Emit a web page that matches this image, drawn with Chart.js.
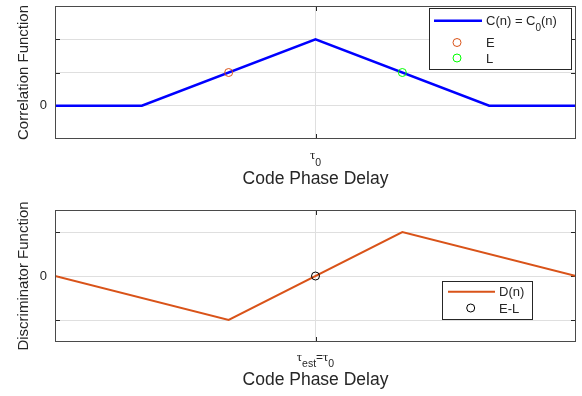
<!DOCTYPE html>
<html>
<head>
<meta charset="utf-8">
<script src="https://cdn.jsdelivr.net/npm/chart.js@4.4.1/dist/chart.umd.min.js"></script>
<style>
  html, body { margin: 0; padding: 0; background: #fff; }
  #wrap { position: relative; width: 582px; height: 396px; }
  canvas { position: absolute; left: 0; }
</style>
</head>
<body>
<div id="wrap">
  <canvas id="corr" width="582" height="198" style="top:0"></canvas>
  <canvas id="disc" width="582" height="198" style="top:198px"></canvas>
</div>
<script>
// Correlation triangle: code phase delay (chips) against correlation value
const corrDelay = [-3, -2, 0, 2, 3];
const corrValue = [0, 0, 2, 0, 0];
// Early and late correlator samples
const earlyPoint = [-1, 1];
const latePoint = [1, 1];
// Early-minus-late discriminator output
const discDelay = [-3, -1, 1, 3];
const discValue = [0, -1, 1, 0];
// Discriminator zero crossing
const elPoint = [0, 0];

// Axis ticks and their labels
const delayTicks = [0];
const corrDelayLabels = ['τ_0'];
const discDelayLabels = ['τ_{est}=τ_0'];
const corrYTicks = [0, 1, 2];
const discYTicks = [-1, 0, 1];
const yTickLabels = { 0: '0' };

const TEXT = '#262626';
const GRID = '#dfdfdf';
const SANS = '"Liberation Sans", Arial, sans-serif';
const SERIF = '"Liberation Serif", "DejaVu Serif", serif';

// Split "a_b" / "a_{bc}" into plain and subscript runs
function parseRich(str) {
  const runs = [];
  let i = 0;
  while (i < str.length) {
    if (str[i] === '_') {
      i++;
      let t;
      if (str[i] === '{') { const j = str.indexOf('}', i); t = str.slice(i + 1, j); i = j + 1; }
      else { t = str[i]; i++; }
      runs.push({ t, sub: true });
    } else {
      let j = i;
      while (j < str.length && str[j] !== '_') j++;
      // Greek letters get their own serif run
      str.slice(i, j).split(/(τ)/).filter(s => s).forEach(s => runs.push({ t: s, sub: false, greek: s === 'τ' }));
      i = j;
    }
  }
  return runs;
}

function drawRich(ctx, str, x, y, st, align) {
  const runs = parseRich(str).map(r => {
    const font = r.sub ? `${st.subSize}px ${SANS}` : r.greek ? `${st.greekSize}px ${SERIF}` : `${st.size}px ${SANS}`;
    ctx.font = font;
    return { ...r, font, w: ctx.measureText(r.t).width, dy: r.sub ? st.subDy : (r.greek ? st.greekDy : 0) };
  });
  const total = runs.reduce((s, r) => s + r.w, 0);
  let cx = align === 'center' ? x - total / 2 : x;
  ctx.textAlign = 'left';
  ctx.textBaseline = 'alphabetic';
  ctx.fillStyle = TEXT;
  runs.forEach(r => { ctx.font = r.font; ctx.fillText(r.t, cx, y + r.dy); cx += r.w; });
}

// Inward tick marks (under the data) and the axes box (over the data)
const framePlugin = {
  id: 'frame',
  beforeDatasetsDraw(chart) {
    const { ctx, chartArea: a, scales: { x, y } } = chart;
    const tl = 5;
    ctx.save();
    ctx.strokeStyle = TEXT;
    ctx.lineWidth = 1;
    ctx.beginPath();
    y.ticks.forEach(t => {
      const py = Math.round(y.getPixelForValue(t.value)) + 0.5;
      ctx.moveTo(a.left, py); ctx.lineTo(a.left + tl, py);
      ctx.moveTo(a.right, py); ctx.lineTo(a.right - tl, py);
    });
    x.ticks.forEach(t => {
      const px = Math.round(x.getPixelForValue(t.value)) + 0.5;
      ctx.moveTo(px, a.top); ctx.lineTo(px, a.top + tl);
      ctx.moveTo(px, a.bottom); ctx.lineTo(px, a.bottom - tl);
    });
    ctx.stroke();
    ctx.restore();
  },
  afterDatasetsDraw(chart) {
    const { ctx, chartArea: a } = chart;
    ctx.save();
    ctx.strokeStyle = '#4a4a4a';
    ctx.lineWidth = 1;
    ctx.strokeRect(a.left + 0.5, a.top + 0.5, a.right - a.left - 1, a.bottom - a.top - 1);
    ctx.restore();
  }
};

// Symbolic delay tick labels under the x axis
const delayLabelPlugin = {
  id: 'delayLabels',
  afterDraw(chart, args, opts) {
    const { ctx, scales: { x } } = chart;
    ctx.save();
    opts.labels.forEach((lab, i) => {
      drawRich(ctx, lab, x.getPixelForValue(opts.values[i]), opts.baseline, opts.style, 'center');
    });
    ctx.restore();
  }
};

// Boxed legend inside the axes
const boxLegendPlugin = {
  id: 'boxLegend',
  afterDraw(chart, args, o) {
    const { ctx, chartArea: a } = chart;
    const x0 = a.right - o.right - o.width, y0 = a.top + o.top;
    ctx.save();
    ctx.fillStyle = '#fff';
    ctx.fillRect(x0, y0, o.width, o.height);
    ctx.strokeStyle = TEXT;
    ctx.lineWidth = 1;
    ctx.strokeRect(x0 + 0.5, y0 + 0.5, o.width, o.height);
    chart.data.datasets.forEach((ds, i) => {
      const ry = y0 + o.rows[i];
      if (ds.showLine === false) {
        ctx.beginPath();
        ctx.arc(x0 + o.sampleMid, ry, o.markerRadius, 0, Math.PI * 2);
        ctx.strokeStyle = ds.pointBorderColor;
        ctx.lineWidth = 1;
        ctx.stroke();
      } else {
        ctx.beginPath();
        ctx.moveTo(x0 + o.sampleLeft, ry);
        ctx.lineTo(x0 + o.sampleRight, ry);
        ctx.strokeStyle = ds.borderColor;
        ctx.lineWidth = ds.borderWidth;
        ctx.stroke();
      }
      drawRich(ctx, ds.label, x0 + o.textX, ry + o.textDy, o.style, 'left');
    });
    ctx.restore();
  }
};

const toPoints = (xs, ys) => xs.map((x, i) => ({ x, y: ys[i] }));
const marker = (label, pt, color) => ({
  label, data: [{ x: pt[0], y: pt[1] }], showLine: false, order: 0,
  pointRadius: 4, pointHoverRadius: 4, pointBorderWidth: 1,
  pointBorderColor: color, pointBackgroundColor: 'rgba(0,0,0,0)'
});

function noPad(s) { s.paddingTop = 0; s.paddingBottom = 0; s.paddingLeft = 0; s.paddingRight = 0; }

function axes(yMin, yMax, yTicks, yTitle, xHeight, xTitlePad) {
  return {
    x: {
      type: 'linear', min: -3, max: 3,
      afterBuildTicks: s => { s.ticks = delayTicks.map(v => ({ value: v })); },
      afterFit: s => { s.height = xHeight; noPad(s); },
      grid: { color: GRID, drawTicks: false },
      border: { display: false },
      ticks: { display: false },
      title: { display: true, text: 'Code Phase Delay', color: TEXT,
               font: { family: SANS, size: 17.5 }, padding: { top: 0, bottom: xTitlePad } }
    },
    y: {
      type: 'linear', min: yMin, max: yMax,
      afterBuildTicks: s => { s.ticks = yTicks.map(v => ({ value: v })); },
      afterFit: s => { s.width = 55; noPad(s); },
      grid: { color: GRID, drawTicks: false },
      border: { display: false },
      ticks: { callback: v => yTickLabels[v] ?? '', padding: 8, color: TEXT,
               font: { family: SANS, size: 13 }, autoSkip: false },
      title: { display: true, text: yTitle, color: TEXT,
               font: { family: SANS, size: 15 }, padding: { top: 14.5, bottom: 0 } }
    }
  };
}

const base = { responsive: false, animation: false, devicePixelRatio: 1, events: [] };

new Chart(document.getElementById('corr'), {
  type: 'line',
  data: {
    datasets: [
      { label: 'C(n) = C_0(n)', data: toPoints(corrDelay, corrValue), order: 1,
        borderColor: '#0000ff', borderWidth: 2.5, pointRadius: 0, tension: 0, fill: false },
      marker('E', earlyPoint, '#D95319'),
      marker('L', latePoint, '#00ff00')
    ]
  },
  options: {
    ...base,
    layout: { padding: { top: 6, right: 6, left: 0, bottom: 0 } },
    plugins: {
      legend: { display: false }, tooltip: { enabled: false },
      delayLabels: { values: delayTicks, labels: corrDelayLabels, baseline: 158.5,
        style: { size: 12, subSize: 10.5, subDy: 7, greekSize: 13, greekDy: 0 } },
      boxLegend: { right: 5, top: 2, width: 142, height: 61, rows: [12.7, 34.5, 50],
        sampleLeft: 5, sampleRight: 53, sampleMid: 28, textX: 57, textDy: 4.6, markerRadius: 4,
        style: { size: 13, subSize: 10, subDy: 5.5, greekSize: 13, greekDy: 0 } }
    },
    scales: axes(-1, 3, corrYTicks, 'Correlation Function', 59, 8.8)
  },
  plugins: [framePlugin, delayLabelPlugin, boxLegendPlugin]
});

new Chart(document.getElementById('disc'), {
  type: 'line',
  data: {
    datasets: [
      { label: 'D(n)', data: toPoints(discDelay, discValue), order: 1,
        borderColor: '#D95319', borderWidth: 2, pointRadius: 0, tension: 0, fill: false },
      marker('E-L', elPoint, '#000000')
    ]
  },
  options: {
    ...base,
    layout: { padding: { top: 12, right: 6, left: 0, bottom: 0 } },
    plugins: {
      legend: { display: false }, tooltip: { enabled: false },
      delayLabels: { values: delayTicks, labels: discDelayLabels, baseline: 162.5,
        style: { size: 12, subSize: 10.5, subDy: 6.5, greekSize: 13, greekDy: 0 } },
      boxLegend: { right: 44, top: 71, width: 90, height: 38, rows: [10.7, 27],
        sampleLeft: 6, sampleRight: 53, sampleMid: 28.7, textX: 57, textDy: 4.6, markerRadius: 4,
        style: { size: 13, subSize: 10, subDy: 5.5, greekSize: 13, greekDy: 0 } }
    },
    scales: axes(-1.5, 1.5, discYTicks, 'Discriminator Function', 54, 5.8)
  },
  plugins: [framePlugin, delayLabelPlugin, boxLegendPlugin]
});
</script>
</body>
</html>
